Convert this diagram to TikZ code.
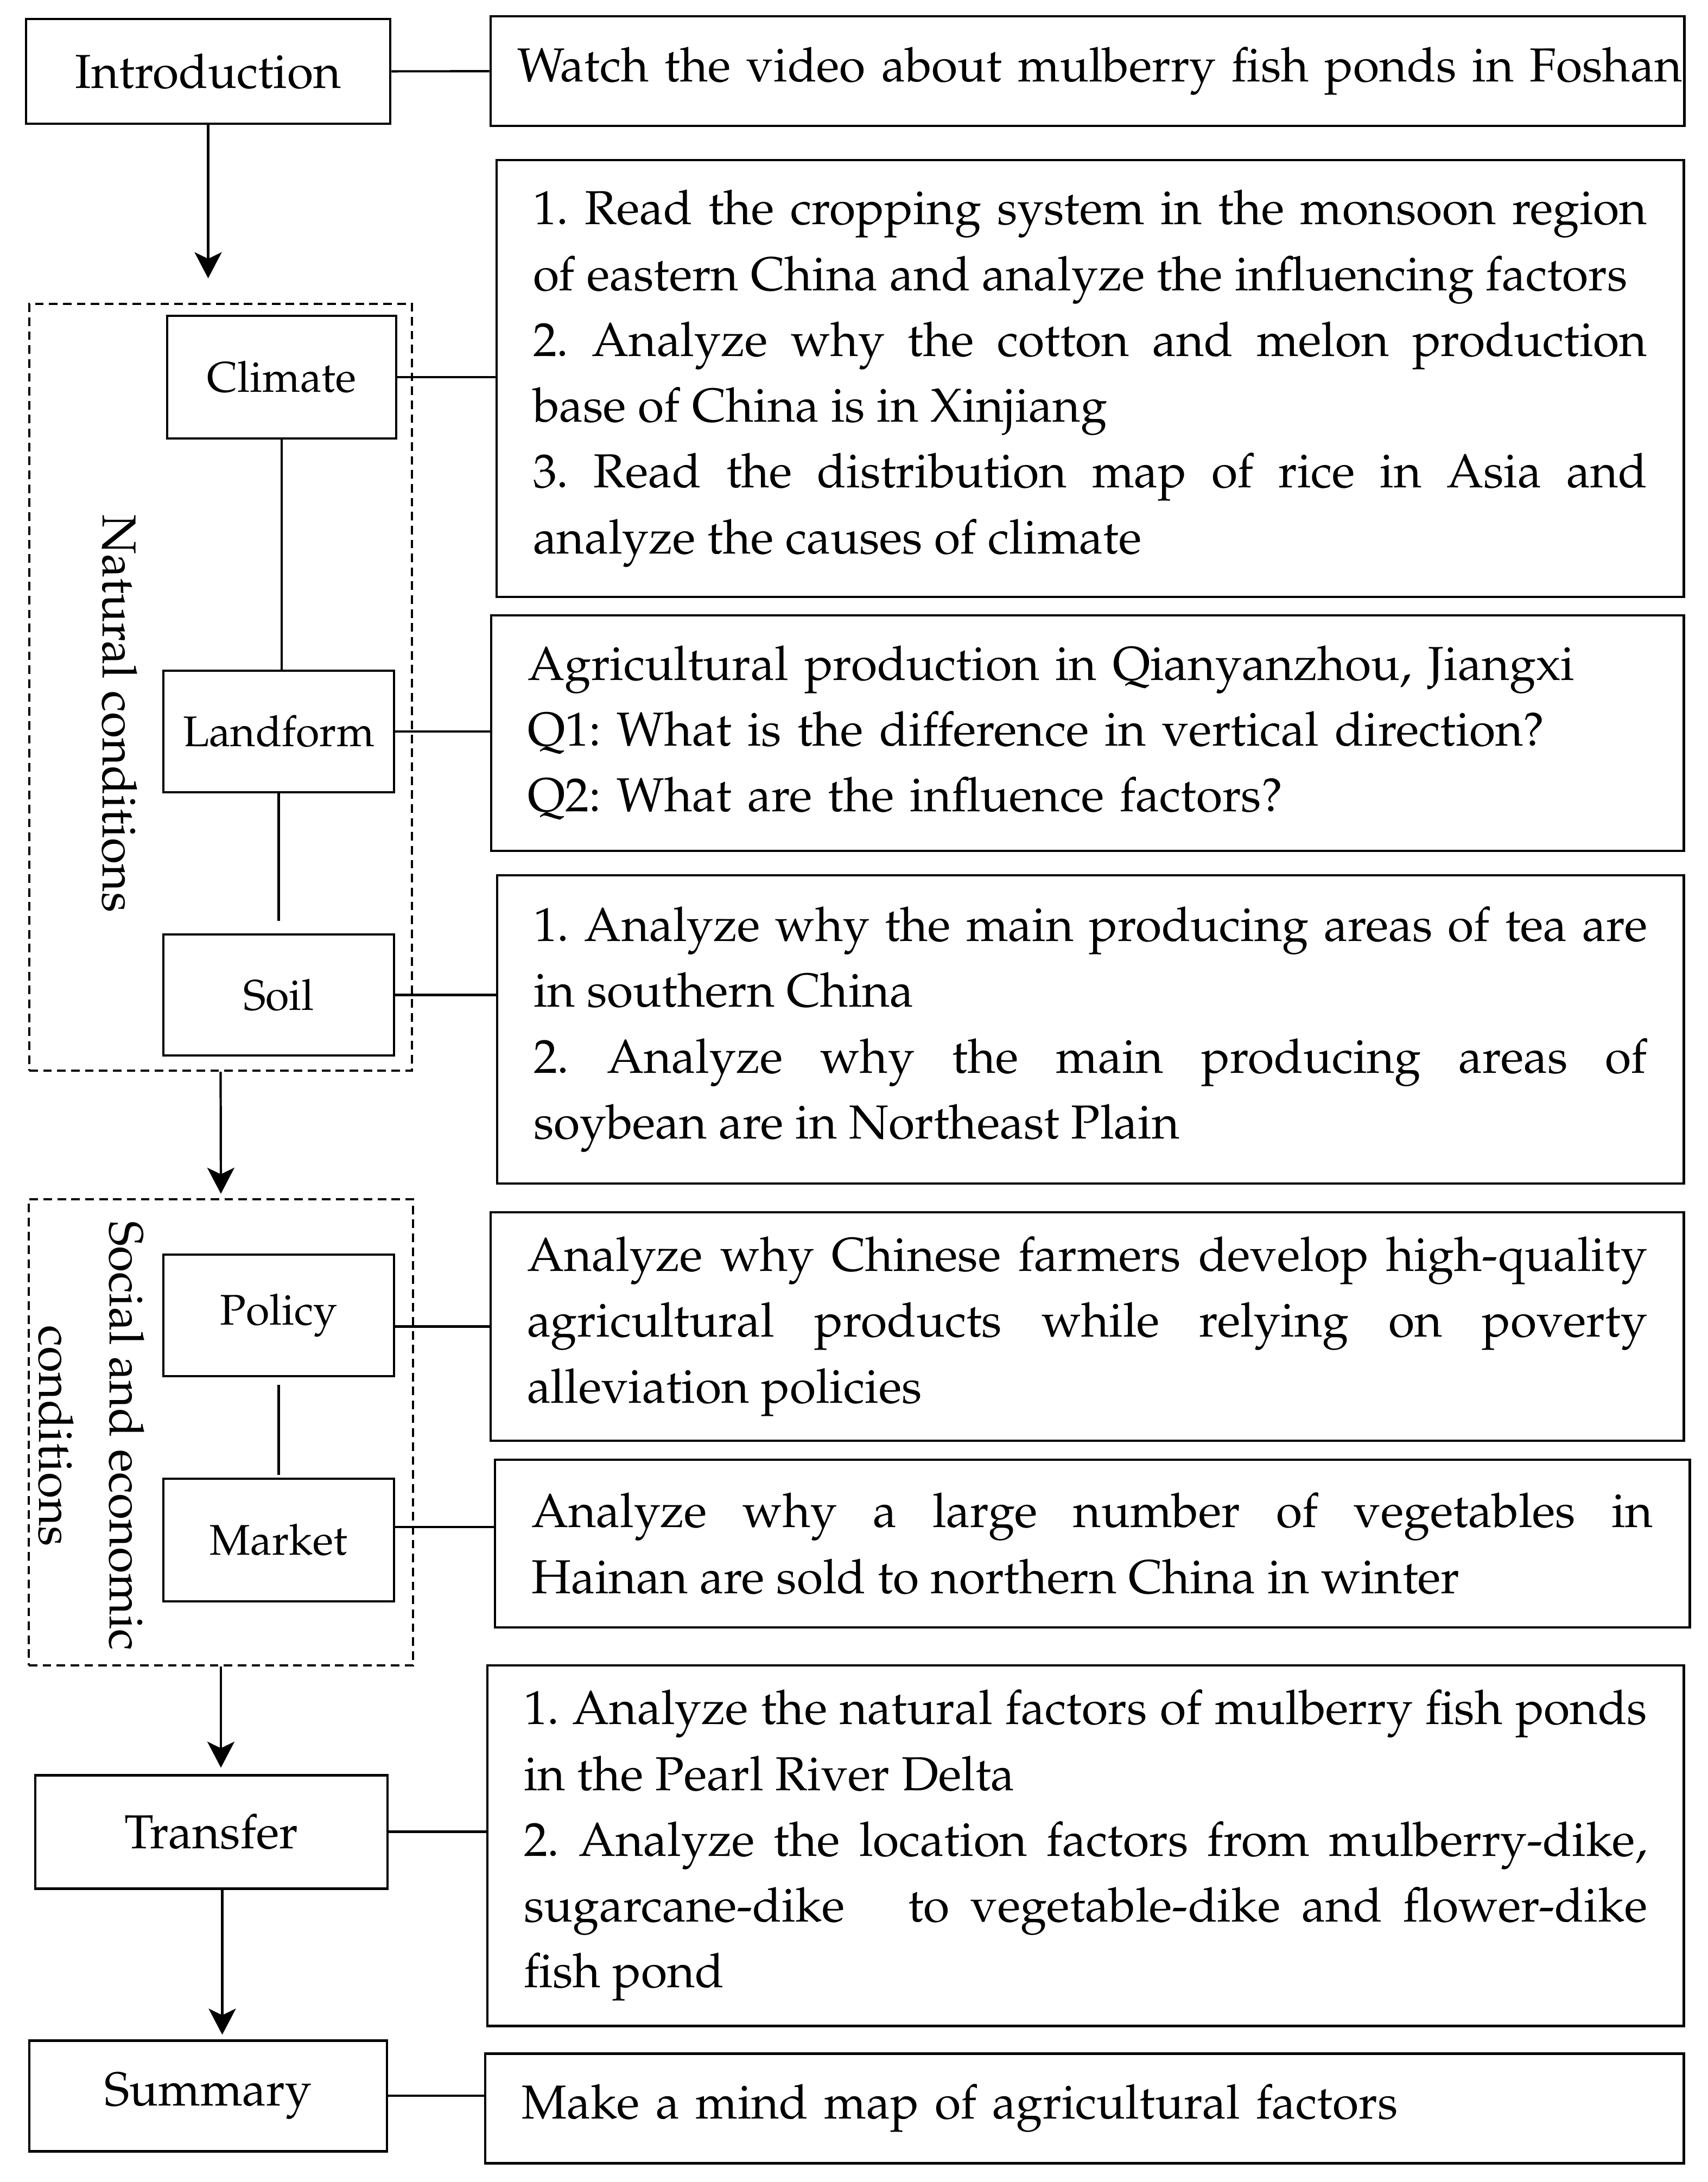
\documentclass[tikz,border=0pt]{standalone}
\usepackage[T1]{fontenc}
\usepackage{mathpazo}
\usepackage{tikz}
\usetikzlibrary{arrows.meta}
\newcommand{\bigtxt}{\fontsize{25}{34.5}\selectfont}
\newcommand{\midtxt}{\fontsize{22.5}{27}\selectfont}
\setlength{\parindent}{0pt}
\frenchspacing
\hyphenpenalty=10000
\tolerance=10000
\hbadness=10000

\begin{document}
\begin{tikzpicture}[>=Stealth,
    every node/.style={inner sep=0pt},
    stage/.style={draw, line width=1.4pt, font=\bigtxt},
    factor/.style={draw, line width=1.4pt, font=\midtxt, minimum width=4.25cm, minimum height=2.24cm},
    group/.style={draw, line width=1.2pt, dash pattern=on 4.5pt off 2.8pt},
    task/.style={draw, line width=1.4pt, inner xsep=0.67cm, align=justify, font=\bigtxt},
    link/.style={line width=1.2pt},
    arr/.style={line width=1.2pt, -{Stealth[length=0.48cm, width=0.5cm, inset=0.12cm]}}]

    \useasboundingbox (0,0) rectangle (31.47,-40.21);

    % Dashed groups
    \node[group, minimum width=7.05cm, minimum height=14.13cm] (nat) at (4.065,-12.665) {};
    \node[group, minimum width=7.08cm, minimum height=8.59cm] (soc) at (4.07,-26.395) {};
    \node[rotate=-90, font=\bigtxt] (natlbl) at (2.2,-13.15) {Natural conditions};
    \node[rotate=-90, align=center, font=\fontsize{25}{37}\selectfont] (soclbl) at (1.68,-26.46)
        {Social and economic\\conditions};

    % Teaching stages
    \node[stage, minimum width=6.71cm, minimum height=1.93cm] (intro) at (3.835,-1.315) {Introduction};
    \node[stage, minimum width=6.49cm, minimum height=2.09cm] (transfer) at (3.895,-33.755) {Transfer};
    \node[stage, minimum width=6.59cm, minimum height=2.04cm] (summary) at (3.835,-38.62) {Summary};

    % Factors
    \node[factor, minimum width=4.22cm, minimum height=2.26cm] (climate) at (5.19,-6.95) {Climate};
    \node[factor] (landform) at (5.135,-13.48) {Landform};
    \node[factor, minimum height=2.23cm] (soil) at (5.135,-18.335) {Soil};
    \node[factor] (policy) at (5.135,-24.24) {Policy};
    \node[factor, minimum height=2.26cm] (market) at (5.135,-28.38) {Market};

    % Learning tasks
    \node[task, inner xsep=0.49cm, text width=21.01cm, minimum height=2.02cm, align=left] (watch) at (20.035,-1.31)
        {\mbox{Watch the video about mulberry fish ponds in Foshan}};
    \node[task, text width=20.53cm, minimum height=8.05cm] (climateTxt) at (20.085,-6.975)
        {1. Read the cropping system in the monsoon region\linebreak
         of eastern China and analyze the influencing factors\\
         2. Analyze why the cotton and melon production\linebreak
         base of China is in Xinjiang\\
         3. Read the distribution map of rice in Asia and\linebreak
         analyze the causes of climate};
    \node[task, text width=20.63cm, minimum height=4.34cm, align=left] (landformTxt) at (20.035,-13.51)
        {Agricultural production in Qianyanzhou, Jiangxi\\
         Q1: What is the difference in vertical direction?\\
         Q2: What are the influence factors?};
    \node[task, text width=20.52cm, minimum height=5.68cm] (soilTxt) at (20.09,-18.97)
        {1. Analyze why the main producing areas of tea are\linebreak
         in southern China\\
         2. Analyze why the main producing areas of\linebreak
         soybean are in Northeast Plain};
    \node[task, text width=20.64cm, minimum height=4.21cm] (policyTxt) at (20.03,-24.445)
        {Analyze why Chinese farmers develop high-quality\linebreak
         agricultural products while relying on poverty\linebreak
         alleviation policies};
    \node[task, text width=20.67cm, minimum height=3.09cm] (marketTxt) at (20.125,-28.445)
        {Analyze why a large number of vegetables in\linebreak
         Hainan are sold to northern China in winter};
    \node[task, text width=20.70cm, minimum height=6.64cm] (transferTxt) at (20.0,-34.01)
        {1. Analyze the natural factors of mulberry fish ponds\linebreak
         in the Pearl River Delta\\
         2. Analyze the location factors from mulberry-dike,\linebreak
         sugarcane-dike~~~to vegetable-dike and flower-dike\linebreak
         fish pond};
    \node[task, text width=20.74cm, minimum height=2.02cm, align=left] (summaryTxt) at (19.98,-38.85)
        {Make a mind map of agricultural factors};

    % Links to the tasks
    \draw[link] (intro) -- (watch);
    \draw[link] (climate.east) -- (climate.east -| climateTxt.west);
    \draw[link] (landform.east) -- (landform.east -| landformTxt.west);
    \draw[link] (soil.east) -- (soil.east -| soilTxt.west);
    \draw[link] (policyTxt.west -| policy.east) -- (policyTxt.west);
    \draw[link] ([yshift=0.24cm]market.east) -- ([yshift=0.24cm]market.east -| marketTxt.west);
    \draw[link] (transfer.east) -- (transfer.east -| transferTxt.west);
    \draw[link] (summary.east) -- (summary.east -| summaryTxt.west);

    % Links between factors
    \draw[link] (climate.south) -- (climate.south |- landform.north);
    \draw[link, shorten >=0.23cm] (landform.south) -- (landform.south |- soil.north);
    \draw[link, shorten <=0.14cm, shorten >=0.05cm] (policy.south) -- (market.north);

    % Flow of the lesson
    \draw[arr, shorten >=0.45cm] (intro.south) -- (intro.south |- nat.north);
    \draw[arr, shorten >=0.08cm] (nat.south) -- (soc.north);
    \draw[arr, shorten >=0.11cm] (soc.south) -- (soc.south |- transfer.north);
    \draw[arr, shorten >=0.08cm] ([xshift=0.2cm]transfer.south) -- ([xshift=0.2cm]transfer.south |- summary.north);

\end{tikzpicture}
\end{document}
